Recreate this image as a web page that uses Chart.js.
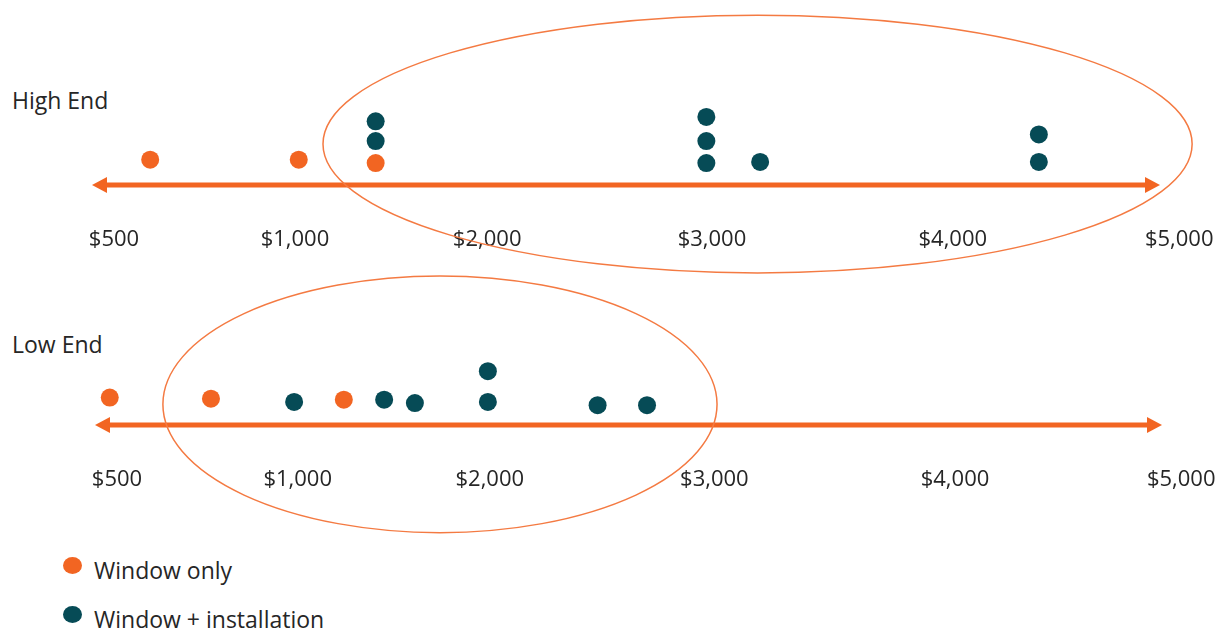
<!DOCTYPE html>
<html>
<head>
<meta charset="utf-8">
<title>Window prices</title>
<script src="https://cdn.jsdelivr.net/npm/chart.js@4.4.0/dist/chart.umd.min.js"></script>
<style>
  body { margin: 0; background: #fff; font-family: "Open Sans", sans-serif; color: #262626; }
  #wrap { position: relative; width: 1224px; height: 630px; overflow: hidden; }
  #wrap canvas { position: absolute; left: 0; }
  #highChart { top: 0; }
  #lowChart { top: 265px; }
  .panel-label { position: absolute; left: 12px; font-size: 23px; line-height: 28px; }
  #highLabel { top: 86px; }
  #lowLabel { top: 330px; }
  .legend-item { position: absolute; left: 94px; font-size: 23px; line-height: 30px; white-space: nowrap; }
  .legend-dot { position: absolute; left: -31px; top: 2px; width: 19px; height: 17px; border-radius: 50%; }
</style>
</head>
<body>
<div id="wrap">
  <div class="panel-label" id="highLabel">High End</div>
  <div class="panel-label" id="lowLabel">Low End</div>
  <canvas id="highChart" width="1224" height="285"></canvas>
  <canvas id="lowChart" width="1224" height="285"></canvas>
  <div id="legend"></div>
</div>
<script>
/* ---------------- DATA ---------------- */

const TICK_VALUES = [500, 1000, 2000, 3000, 4000, 5000];
const TICK_LABELS = ["$500", "$1,000", "$2,000", "$3,000", "$4,000", "$5,000"];
const SERIES = ["Window only", "Window + installation"];

// high end: price, and how high the dot sits in its stack
const HIGH_WINDOW_PRICE = [600, 1020, 1420];
const HIGH_WINDOW_STACK = [0.1, 0.1, -0.05];
const HIGH_INSTALL_PRICE = [1420, 1420, 2975, 2975, 2975, 3200, 4380, 4380];
const HIGH_INSTALL_STACK = [0.95, 1.85, -0.05, 0.95, 2.05, 0, 0, 1.25];

// low end
const LOW_WINDOW_PRICE = [480, 760, 1240];
const LOW_WINDOW_STACK = [0.2, 0.15, 0.1];
const LOW_INSTALL_PRICE = [990, 1450, 1610, 1990, 1990, 2480, 2700];
const LOW_INSTALL_STACK = [0, 0.1, -0.05, 0, 1.4, -0.15, -0.15];

/* ---------------- STYLE ---------------- */

const ORANGE = "#F26522";
const TEAL = "#064B56";
const RING = "#F47A42";
const COLORS = [ORANGE, TEAL];

// where each tick sits along the axis (fraction of the arrow length)
const AXIS_STOPS = [0.0206, 0.19, 0.37, 0.5805, 0.806, 1.018];
const AXIS_HEIGHT = 70;

/* ---------------- SCALE ---------------- */

function priceToDecimal(v, values, stops) {
  let i = 1;
  while (i < values.length - 1 && v > values[i]) i++;
  const t = (v - values[i - 1]) / (values[i] - values[i - 1]);
  return stops[i - 1] + t * (stops[i] - stops[i - 1]);
}

class PiecewiseScale extends Chart.LinearScale {
  static id = "piecewise";

  buildTicks() {
    return this.options.tickValues.map(value => ({ value }));
  }

  getPixelForValue(value) {
    return this.getPixelForDecimal(
      priceToDecimal(value, this.options.tickValues, this.options.stops));
  }

  getValueForPixel(pixel) {
    const d = this.getDecimalForPixel(pixel);
    const vals = this.options.tickValues, stops = this.options.stops;
    let i = 1;
    while (i < stops.length - 1 && d > stops[i]) i++;
    const t = (d - stops[i - 1]) / (stops[i] - stops[i - 1]);
    return vals[i - 1] + t * (vals[i] - vals[i - 1]);
  }
}
Chart.register(PiecewiseScale);

/* ---------------- PLUGINS ---------------- */

const axisArrow = {
  id: "axisArrow",
  beforeDatasetsDraw(chart) {
    const { ctx, chartArea: { left, right, bottom } } = chart;
    const head = 15, half = 8;
    ctx.save();
    ctx.strokeStyle = ORANGE;
    ctx.fillStyle = ORANGE;
    ctx.lineWidth = 5;
    ctx.beginPath();
    ctx.moveTo(left + head - 2, bottom);
    ctx.lineTo(right - head + 2, bottom);
    ctx.stroke();

    ctx.beginPath();
    ctx.moveTo(left, bottom);
    ctx.lineTo(left + head, bottom - half);
    ctx.lineTo(left + head, bottom + half);
    ctx.closePath();
    ctx.fill();

    ctx.beginPath();
    ctx.moveTo(right, bottom);
    ctx.lineTo(right - head, bottom - half);
    ctx.lineTo(right - head, bottom + half);
    ctx.closePath();
    ctx.fill();
    ctx.restore();
  }
};

const highlightRing = {
  id: "highlightRing",
  afterDatasetsDraw(chart, args, opts) {
    const { ctx, scales: { x, y } } = chart;
    const x0 = x.getPixelForValue(opts.xMin);
    const x1 = x.getPixelForValue(opts.xMax);
    const y0 = y.getPixelForValue(opts.yMax);
    const y1 = y.getPixelForValue(opts.yMin);
    ctx.save();
    ctx.strokeStyle = RING;
    ctx.lineWidth = 1.5;
    ctx.beginPath();
    ctx.ellipse((x0 + x1) / 2, (y0 + y1) / 2, (x1 - x0) / 2, (y1 - y0) / 2, 0, 0, Math.PI * 2);
    ctx.stroke();
    ctx.restore();
  }
};

/* ---------------- CHARTS ---------------- */

function toPoints(prices, stacks) {
  return prices.map((p, i) => ({ x: p, y: stacks[i] }));
}

function renderPanel(id, windowPts, installPts, yMax, padding, ring) {
  new Chart(document.getElementById(id), {
    type: "scatter",
    data: {
      datasets: [windowPts, installPts].map((pts, i) => ({
        label: SERIES[i],
        data: pts,
        backgroundColor: COLORS[i],
        borderWidth: 0,
        pointRadius: 9,
        clip: false
      }))
    },
    options: {
      responsive: false,
      animation: false,
      events: [],
      layout: { padding },
      plugins: {
        legend: { display: false },
        tooltip: { enabled: false },
        highlightRing: ring
      },
      scales: {
        x: {
          type: "piecewise",
          tickValues: TICK_VALUES,
          stops: AXIS_STOPS,
          grid: { display: false, drawTicks: false },
          border: { display: false },
          // labels hang past the arrow ends; keep the axis box fixed
          afterFit: scale => {
            scale.paddingLeft = 0;
            scale.paddingRight = 0;
            scale.height = AXIS_HEIGHT;
          },
          ticks: {
            autoSkip: false,
            maxRotation: 0,
            padding: 42,
            color: "#262626",
            font: { family: "'Open Sans', sans-serif", size: 22 },
            callback: (value, i) => TICK_LABELS[i]
          }
        },
        y: { display: false, min: -1.05, max: yMax }
      }
    },
    plugins: [axisArrow, highlightRing]
  });
}

renderPanel(
  "highChart",
  toPoints(HIGH_WINDOW_PRICE, HIGH_WINDOW_STACK),
  toPoints(HIGH_INSTALL_PRICE, HIGH_INSTALL_STACK),
  3,
  { left: 92, right: 64, top: 96, bottom: 30 },
  { xMin: 1146, xMax: 5057, yMin: -5.05, yMax: 6.68 }
);

renderPanel(
  "lowChart",
  toPoints(LOW_WINDOW_PRICE, LOW_WINDOW_STACK),
  toPoints(LOW_INSTALL_PRICE, LOW_INSTALL_STACK),
  2,
  { left: 95, right: 62, top: 93, bottom: 55 },
  { xMin: 627, xMax: 3011, yMin: -5.95, yMax: 5.73 }
);

/* ---------------- LEGEND ---------------- */

function renderLegend() {
  const box = document.getElementById("legend");
  const rowTops = [555, 604];
  SERIES.forEach((name, i) => {
    const item = document.createElement("div");
    item.className = "legend-item";
    item.style.top = rowTops[i] + "px";
    item.innerHTML = `<span class="legend-dot" style="background:${COLORS[i]}"></span>${name}`;
    box.appendChild(item);
  });
}
renderLegend();
</script>
</body>
</html>
